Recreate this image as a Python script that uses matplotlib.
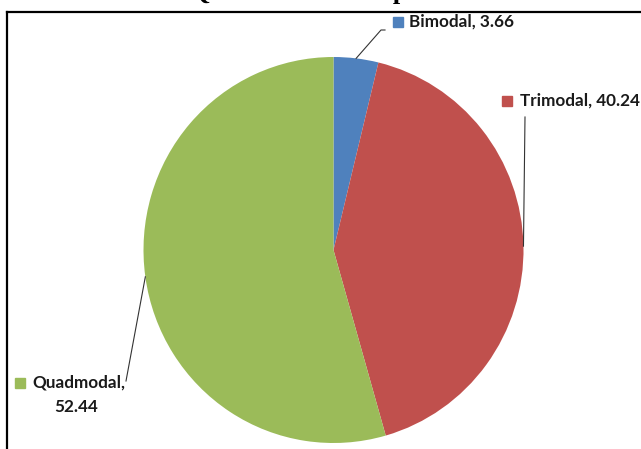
import numpy as np
import matplotlib
matplotlib.use("Agg")
import matplotlib.pyplot as plt
from matplotlib.lines import Line2D

# ----------------------------------------
#  Data
# ----------------------------------------
CATEGORIES = ["Bimodal", "Trimodal", "Quadmodal"]
VALUES = [3.66, 40.24, 52.44]
COLORS = ["#4F81BD", "#C0504D", "#9BBB59"]
TITLE = "Quantitative Comparison"

W, H = 641, 449
CX, CY = 333.5, 250               # pie centre in pixels (top-left origin)
RX, RY = 190, 193                 # pie is slightly taller than wide


def px(x, y):
    """pixel (top-left origin) -> data coords of the pie axes"""
    return (x - CX) / RX, (CY - y) / RY


fig = plt.figure(figsize=(W / 100, H / 100), dpi=100)
fig.patch.set_facecolor("white")

ax = fig.add_axes([(CX - RX) / W, (H - CY - RY) / H, 2 * RX / W, 2 * RY / H])
ax.pie(VALUES, colors=COLORS, startangle=90, counterclock=False,
       radius=1, wedgeprops=dict(linewidth=0))
ax.set_xlim(-1, 1)
ax.set_ylim(-1, 1)
ax.set_aspect("auto")
ax.axis("off")

# mid-angle of each wedge (clockwise from top)
frac = np.array(VALUES) / sum(VALUES)
ends = np.cumsum(frac) * 360
mids = ends - frac * 180


def edge(angle_deg):
    a = np.radians(angle_deg)
    return np.sin(a), np.cos(a)


font = dict(family="Lato", fontweight="bold", fontsize=12.3, color="#1a1a1a")

# label anchors in pixels: marker square, text start, leader line bends
labels = [
    dict(sq=(398, 22), text=(409, 22), bend=[(381, 30), (385, 30)]),
    dict(sq=(507, 101), text=(520, 101), bend=[(525, 117)]),
    dict(sq=(20, 383), text=(32, 383), bend=[(126, 381)]),
]

for i, lab in enumerate(labels):
    ex, ey = edge(mids[i])
    pts = [(ex, ey)] + [px(*p) for p in lab["bend"]]
    xs, ys = zip(*pts)
    ax.plot(xs, ys, color="#333333", lw=0.8, clip_on=False)
    mx, my = px(*lab["sq"])
    ax.plot(mx, my, marker="s", ms=7, color=COLORS[i], mec=COLORS[i],
            clip_on=False)
    tx, ty = px(*lab["text"])
    if i < 2:
        ax.text(tx, ty, f"{CATEGORIES[i]}, {VALUES[i]:.2f}", ha="left",
                va="center", **font)
    else:
        ax.text(tx, ty, f"{CATEGORIES[i]},", ha="left", va="center", **font)
        qx, qy = px(76, 407)
        ax.text(qx, qy, f"{VALUES[i]:.2f}", ha="center", va="center", **font)

# chart frame (only left and top edges fall inside the image)
fig.add_artist(Line2D([7 / W, 7 / W], [0, 1 - 12 / H], color="black", lw=1.6,
                      transform=fig.transFigure))
fig.add_artist(Line2D([7 / W, 1], [1 - 12 / H, 1 - 12 / H], color="black",
                      lw=1.6, transform=fig.transFigure))

# title sits above the top edge; only its descenders show
fig.text(190 / W, 1 + 1 / H, TITLE, family="Liberation Serif",
         fontweight="bold", fontsize=19, ha="left", va="baseline")

fig.savefig("out.png", dpi=100)
